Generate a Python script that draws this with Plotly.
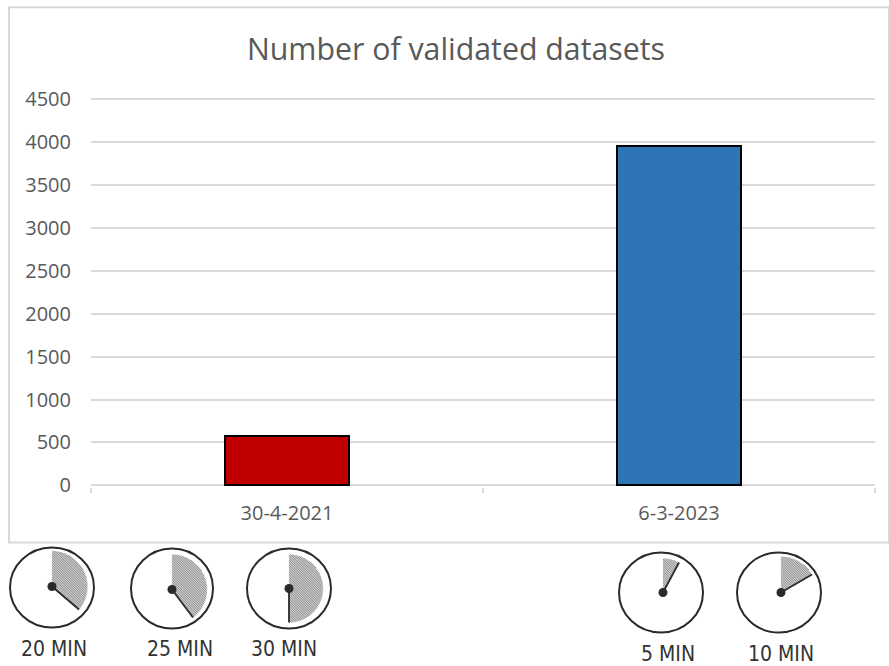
import math
import plotly.graph_objects as go

# Chart data
dates = ["30-4-2021", "6-3-2023"]
datasets = [570, 3950]
bar_colors = ["#C00000", "#2E75B6"]
y_ticks = [0, 500, 1000, 1500, 2000, 2500, 3000, 3500, 4000, 4500]
title_text = "Number of validated datasets"

# Clock icon decoration (pixel geometry of the picture)
clock_labels = ["20 MIN", "25 MIN", "30 MIN", "5 MIN", "10 MIN"]
clock_centres = [(52, 587), (172, 588), (289, 588), (661, 592), (779, 592)]
clock_radii = [(42, 40), (41, 40), (42, 40), (42, 40), (42, 40)]
clock_hubs = [(52, 586), (172, 589), (289, 588), (663, 592), (781, 592)]
clock_hands = [(79, 609), (193, 617), (289, 622), (679, 562), (812, 574)]
clock_label_pos = [(54, 648), (180, 648), (284, 648), (668, 653), (781, 653)]

W, H = 889, 666
L, R = 91, 875
Y0, Y4500 = 485, 98.5          # pixel rows of the values 0 and 4500
PER_UNIT = (Y0 - Y4500) / 4500
Y_MIN, Y_MAX = -18, 4520       # small padding keeps the end gridlines drawn
B = Y0 - Y_MIN * PER_UNIT
T = Y0 - Y_MAX * PER_UNIT
GRID = "#D9D9D9"
TEXT = "#595959"


def px(x):
    return (x - L) / (R - L)


def py(y):
    return (B - y) / (B - T)


def path_of(points, close=False):
    d = "M" + " L".join(f"{px(x):.5f},{py(y):.5f}" for x, y in points)
    return d + (" Z" if close else "")


def wedge(hub, hand):
    r = math.hypot(hand[0] - hub[0], hand[1] - hub[1])
    end = math.atan2(hand[0] - hub[0], hub[1] - hand[1])
    n = 40
    pts = [hub]
    for i in range(n + 1):
        a = end * i / n
        pts.append((hub[0] + r * math.sin(a), hub[1] - r * math.cos(a)))
    return pts


def hatch(poly, step=2.4):
    # diagonal lines x - y = c, clipped to the polygon
    vals = [x - y for x, y in poly]
    c = min(vals)
    segs = []
    while c < max(vals):
        hits = []
        for (x1, y1), (x2, y2) in zip(poly, poly[1:] + poly[:1]):
            v1, v2 = x1 - y1 - c, x2 - y2 - c
            if v1 * v2 < 0:
                t = v1 / (v1 - v2)
                hits.append((x1 + t * (x2 - x1), y1 + t * (y2 - y1)))
        hits.sort()
        for a, b in zip(hits[0::2], hits[1::2]):
            segs.append(path_of([a, b]))
        c += step
    return " ".join(segs)


shapes = [
    dict(type="rect", xref="paper", yref="paper", layer="below",
         x0=px(9), x1=px(889), y0=py(542), y1=py(7),
         line=dict(color=GRID, width=2), fillcolor="white"),
]
annotations = []
INK = "#2A2A2A"
for i, label in enumerate(clock_labels):
    cx, cy = clock_centres[i]
    rx, ry = clock_radii[i]
    hub, hand = clock_hubs[i], clock_hands[i]
    poly = wedge(hub, hand)
    shapes.append(dict(type="path", xref="paper", yref="paper",
                       path=path_of(poly, True), fillcolor="#CFCFCF",
                       line=dict(width=0)))
    shapes.append(dict(type="path", xref="paper", yref="paper",
                       path=hatch(poly), line=dict(color="#8C8C8C", width=1)))
    shapes.append(dict(type="circle", xref="paper", yref="paper",
                       x0=px(cx - rx), x1=px(cx + rx), y0=py(cy + ry), y1=py(cy - ry),
                       line=dict(color=INK, width=2)))
    shapes.append(dict(type="path", xref="paper", yref="paper",
                       path=path_of([hub, hand]), line=dict(color=INK, width=1.8)))
    shapes.append(dict(type="circle", xref="paper", yref="paper",
                       x0=px(hub[0] - 4.5), x1=px(hub[0] + 4.5), y0=py(hub[1] + 4.5), y1=py(hub[1] - 4.5),
                       fillcolor=INK, line=dict(width=0)))
    lx, ly = clock_label_pos[i]
    annotations.append(dict(text=label, xref="paper", yref="paper", showarrow=False,
                            x=px(lx), y=py(ly), xanchor="center", yanchor="middle",
                            font=dict(family="DejaVu Sans Condensed", size=21, color="#333333")))

fig = go.Figure(go.Bar(
    x=dates, y=datasets, width=0.318,
    marker=dict(color=bar_colors, line=dict(color="#000000", width=2)),
    hoverinfo="x+y",
))
fig.update_layout(
    width=W, height=H, autosize=False,
    margin=dict(l=L, r=W - R, t=T, b=H - B, pad=0),
    paper_bgcolor="white", plot_bgcolor="white",
    showlegend=False, bargap=0,
    font=dict(family="Open Sans", color=TEXT, size=20),
    title=dict(text=title_text, xref="container", yref="container",
               x=456 / W, xanchor="center", y=1 - 49 / H, yanchor="middle",
               font=dict(family="Open Sans", size=30.3, color=TEXT)),
    shapes=shapes, annotations=annotations,
    xaxis=dict(type="category", categoryorder="array", categoryarray=dates,
               tickson="boundaries", ticks="outside", ticklen=5, tickwidth=2, tickcolor=GRID,
               showline=False, showgrid=False,
               ticklabelstandoff=12, tickfont=dict(size=20, color=TEXT)),
    yaxis=dict(range=[Y_MIN, Y_MAX], tickmode="array", tickvals=y_ticks,
               showgrid=True, gridcolor=GRID, gridwidth=2,
               zeroline=True, zerolinecolor=GRID, zerolinewidth=2, showline=False,
               ticks="outside", ticklen=15, tickcolor="rgba(0,0,0,0)",
               tickfont=dict(size=20, color=TEXT)),
)
fig.write_html("out.html", config={"displayModeBar": False},
               post_script="document.body.style.margin='0';")
